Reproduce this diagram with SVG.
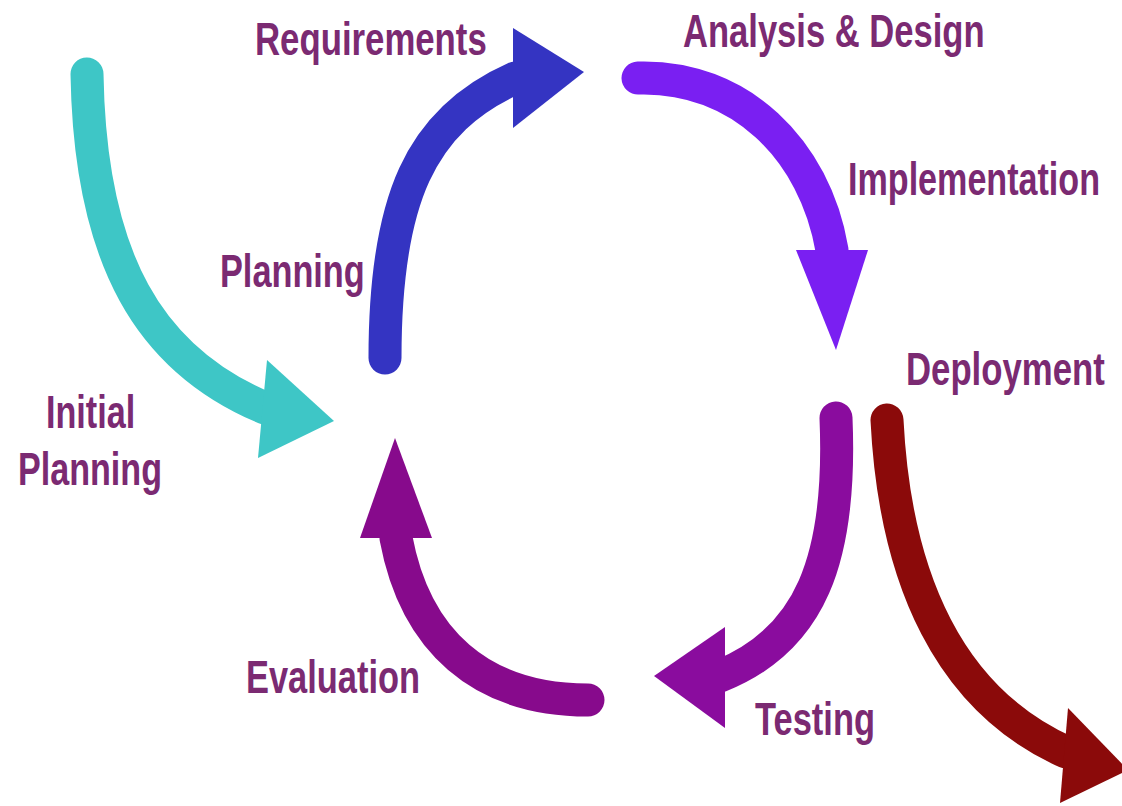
<svg xmlns="http://www.w3.org/2000/svg" width="1122" height="806" viewBox="0 0 1122 806">
<style>
.lbl{font-family:"Liberation Sans",Arial,sans-serif;font-weight:bold;font-size:46px;fill:#7b2a72}
.st{fill:none;stroke-width:33;stroke-linecap:round}
</style>
<rect width="1122" height="806" fill="#ffffff"/>
<g id="connectors">
<g id="initial-arrow">
<path class="st" stroke="#3ec6c6" d="M87,74 C90,260 150,360 265,408"/>
<polygon fill="#3ec6c6" points="267,360 334,421 258,458"/>
</g>
<g id="planning-arrow">
<path class="st" stroke="#3434c2" d="M385,358 C385,200 420,120 515,78"/>
<polygon fill="#3434c2" points="513,28 584,72 513,128"/>
</g>
<g id="design-arrow">
<path class="st" stroke="#7a1ff2" d="M638,78 C740,75 815,150 832,250"/>
<polygon fill="#7a1ff2" points="796,250 868,250 836,350"/>
</g>
<g id="testing-arrow">
<path class="st" stroke="#8a0c9e" d="M836,418 C842,560 810,640 720,676"/>
<polygon fill="#8a0c9e" points="725,627 725,728 654,676"/>
</g>
<g id="evaluation-arrow">
<path class="st" stroke="#870a8c" d="M588,700 C480,700 415,640 396,538"/>
<polygon fill="#870a8c" points="395,438 360,538 432,538"/>
</g>
<g id="deployment-arrow">
<path class="st" stroke="#8b0a0a" d="M887,420 C895,580 950,700 1066,752"/>
<polygon fill="#8b0a0a" points="1068,708 1128,770 1060,803"/>
</g>
</g>
<g id="label-requirements"><text class="lbl" transform="translate(255,55) scale(0.75,1)" textLength="309" lengthAdjust="spacingAndGlyphs">Requirements</text></g>
<g id="label-analysis"><text class="lbl" transform="translate(683,47) scale(0.75,1)" textLength="402" lengthAdjust="spacingAndGlyphs">Analysis &amp; Design</text></g>
<g id="label-implementation"><text class="lbl" transform="translate(848,195) scale(0.75,1)" textLength="336" lengthAdjust="spacingAndGlyphs">Implementation</text></g>
<g id="label-planning"><text class="lbl" transform="translate(220,287) scale(0.75,1)" textLength="193" lengthAdjust="spacingAndGlyphs">Planning</text></g>
<g id="label-deployment"><text class="lbl" transform="translate(906,385) scale(0.75,1)" textLength="265" lengthAdjust="spacingAndGlyphs">Deployment</text></g>
<g id="label-initial-planning">
<text class="lbl" transform="translate(46,428) scale(0.75,1)" textLength="119" lengthAdjust="spacingAndGlyphs">Initial</text>
<text class="lbl" transform="translate(18,485) scale(0.75,1)" textLength="192" lengthAdjust="spacingAndGlyphs">Planning</text>
</g>
<g id="label-evaluation"><text class="lbl" transform="translate(246,693) scale(0.75,1)" textLength="232" lengthAdjust="spacingAndGlyphs">Evaluation</text></g>
<g id="label-testing"><text class="lbl" transform="translate(755,735) scale(0.75,1)" textLength="160" lengthAdjust="spacingAndGlyphs">Testing</text></g>
</svg>
